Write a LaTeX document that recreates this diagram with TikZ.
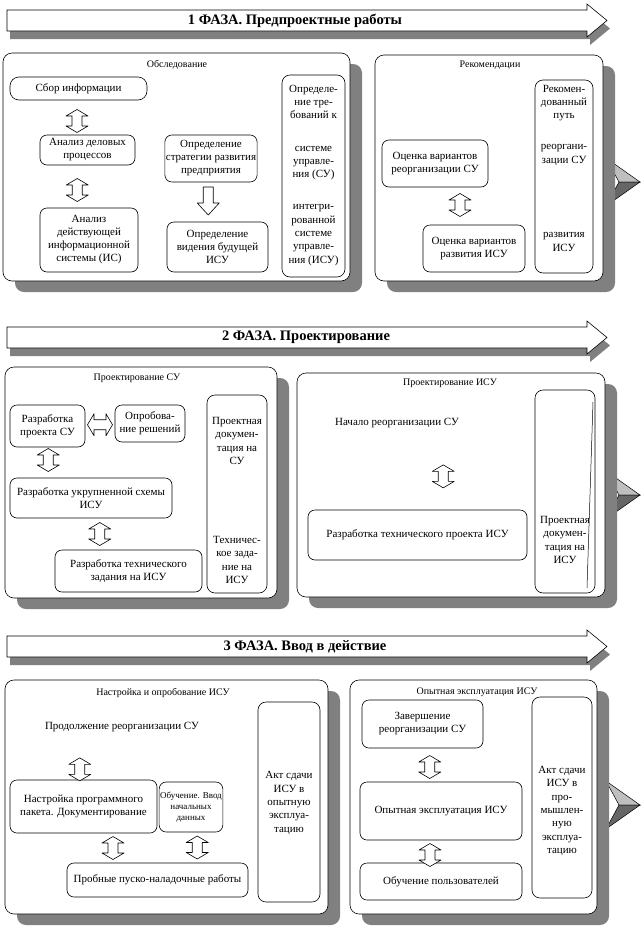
\documentclass[tikz,border=0pt]{standalone}
\usepackage{fontspec}
\setmainfont{Liberation Serif}
\usetikzlibrary{calc}
\tikzset{
 panel/.style={draw, fill=white, rounded corners=9pt, line width=0.6pt},
 pshadow/.style={fill=black!50, rounded corners=9pt},
 box/.style={draw, fill=white, rounded corners=7pt, line width=0.6pt, align=center, inner sep=1pt, font=\fontsize{11}{13}\selectfont},
 tallbox/.style={draw, fill=white, rounded corners=8pt, line width=0.6pt, inner sep=0pt},
 txt/.style={align=center, inner sep=0pt, font=\fontsize{11}{13.3}\selectfont},
 ptitle/.style={inner sep=0pt, font=\fontsize{10}{12}\selectfont},
 btext/.style={inner sep=0pt, font=\fontsize{14.5}{16}\selectfont\bfseries},
 blk/.style={draw, fill=white, line width=0.6pt, line join=round},
 bshape/.style={draw, fill=white, line width=0.6pt},
 bshadow/.style={fill=black!50},
}
\newcommand\arrV[1]{\draw[blk] (#1) ++(0,-11.5) -- ++(11,6.5) -- ++(-6,0) -- ++(0,10) -- ++(6,0) -- ++(-11,6.5) -- ++(-11,-6.5) -- ++(6,0) -- ++(0,-10) -- ++(-6,0) -- cycle;}
\newcommand\arrH[1]{\draw[blk] (#1) ++(-12.5,0) -- ++(6.5,-11) -- ++(0,6) -- ++(12,0) -- ++(0,-6) -- ++(6.5,11) -- ++(-6.5,11) -- ++(0,-6) -- ++(-12,0) -- ++(0,6) -- cycle;}
\newcommand\arrD[1]{\draw[blk] (#1) ++(-5,-14) -- ++(10,0) -- ++(0,16) -- ++(6,0) -- ++(-11,12) -- ++(-11,-12) -- ++(6,0) -- cycle;}
\newcommand\mybanner[1]{%
 \fill[bshadow] (10,#1+8) -- (590,#1+8) -- (590,#1+2) -- (610,#1+18.5) -- (590,#1+35) -- (590,#1+29) -- (10,#1+29) -- cycle;
 \draw[bshape] (7,#1) -- (587,#1) -- (587,#1-6) -- (607,#1+10.5) -- (587,#1+27) -- (587,#1+21) -- (7,#1+21) -- cycle;
}
\newcommand\mychev[1]{%
 \draw[fill=black!25, line width=0.5pt] (606,#1-24) -- (640,#1) -- (619,#1) -- cycle;
 \draw[fill=black!60, line width=0.5pt] (619,#1) -- (640,#1) -- (606,#1+24) -- cycle;
}
\begin{document}
\begin{tikzpicture}[x=1pt,y=-1pt]
\fill[white] (0,0) rectangle (642,935);
\useasboundingbox (0,0) rectangle (642,935);

% ---------- PHASE 1 ----------
\mybanner{10}
\node[btext] (b1) at (295,20.5) {1 ФАЗА. Предпроектные работы};
\mychev{182}
\fill[pshadow] (15,64) rectangle (362,292);
\draw[panel] (3,53) rectangle (350,281);
\fill[pshadow] (387,66) rectangle (615,292);
\draw[panel] (375,55) rectangle (603,281);

\node[ptitle] (t1l) at (177,65) {Обследование};
\node[box, rounded corners=9pt, minimum width=137pt, minimum height=23pt] (sbor) at (78.5,88.5) {Сбор информации};
\node[box, minimum width=95pt, minimum height=30pt] (anal1) at (87.5,150) {Анализ деловых\\процессов};
\node[box, minimum width=98pt, minimum height=64pt] (anal2) at (89,240) {Анализ\\действующей\\информационной\\системы (ИС)};
\node[box, minimum width=92pt, minimum height=47pt] (strat) at (211,158.5) {Определение\\стратегии развития\\предприятия};
\node[box, minimum width=101pt, minimum height=50pt] (vid) at (217.5,247) {Определение\\видения будущей\\ИСУ};
\node[tallbox, minimum width=63pt, minimum height=202pt] (treb) at (313.5,176) {};
\node[txt] (treb1) at (313.5,102) {Определе-\\ние тре-\\бований к};
\node[txt] (treb2) at (313.5,163) {системе\\управле-\\ния (СУ)};
\node[txt] (treb3) at (313.5,235) {интегри-\\рованной\\системе\\управле-\\ния (ИСУ)};
\coordinate (ar1) at ($(sbor.south)!0.5!(anal1.north)+(-6,3.5)$);
\coordinate (ar2) at ($(anal1.south)!0.5!(anal2.north)+(-11,3.5)$);
\coordinate (ar3) at ($(strat.south)!0.5!(vid.north)+(-6,-1)$);
\arrV{ar1} \arrV{ar2} \arrD{ar3}

\node[ptitle] (t1r) at (490,65) {Рекомендации};
\node[box, minimum width=106pt, minimum height=47pt] (ocr) at (435,163.5) {Оценка вариантов\\реорганизации СУ};
\node[box, minimum width=102pt, minimum height=47pt] (ocd) at (474,248.5) {Оценка вариантов\\развития ИСУ};
\node[tallbox, minimum width=58pt, minimum height=193pt] (rek) at (564,176.5) {};
\node[txt] (rek1) at (564,103) {Рекомен-\\дованный\\путь};
\node[txt] (rek2) at (564,155) {реоргани-\\зации СУ};
\node[txt] (rek3) at (564,242) {развития\\ИСУ};
\coordinate (ar4) at ($(ocr.south)!0.5!(ocd.north)+(5.5,-1)$);
\arrV{ar4}

% ---------- PHASE 2 ----------
\mybanner{327}
\node[btext] (b2) at (306,337.5) {2 ФАЗА. Проектирование};
\mychev{495}
\fill[pshadow] (17,378) rectangle (289,609);
\draw[panel] (5,367) rectangle (277,598);
\fill[pshadow] (309,384) rectangle (617,608);
\draw[panel] (297,373) rectangle (605,597);

\node[ptitle] (t2l) at (137,378) {Проектирование СУ};
\node[box, minimum width=75pt, minimum height=42pt] (prsu) at (47.5,426) {Разработка\\проекта СУ};
\node[box, minimum width=70pt, minimum height=37pt] (opr) at (150,423.5) {Опробова-\\ние решений};
\node[box, minimum width=162pt, minimum height=40pt] (ukr) at (91,498) {Разработка укрупненной схемы\\ИСУ};
\node[box, minimum width=147pt, minimum height=42pt] (tz) at (128.5,571) {Разработка технического\\задания на ИСУ};
\node[tallbox, minimum width=60pt, minimum height=198pt] (pdsu) at (237,494) {};
\node[txt] (pdsu1) at (237,441) {Проектная\\докумен-\\тация на\\СУ};
\node[txt] (pdsu2) at (237,560) {Техничес-\\кое зада-\\ние на\\ИСУ};
\coordinate (ar5) at ($(prsu.east)!0.5!(opr.west)$);
\coordinate (ar6) at ($(prsu.south)!0.5!(ukr.north)+(-21,-2.5)$);
\coordinate (ar7) at ($(ukr.south)!0.5!(tz.north)+(-10,0)$);
\arrH{ar5} \arrV{ar6} \arrV{ar7}

\node[ptitle] (t2r) at (450,383) {Проектирование ИСУ};
\node[txt] (nach) at (397,423) {Начало реорганизации СУ};
\node[box, minimum width=219pt, minimum height=50pt] (trp) at (417.5,535) {Разработка технического проекта ИСУ};
\node[tallbox, minimum width=60pt, minimum height=203pt] (pdisu) at (565,491.5) {};
\draw[line width=0.5pt] (593,402) -- (587,588);
\node[txt] (pdisu1) at (565,540) {Проектная\\докумен-\\тация на\\ИСУ};
\coordinate (ar8) at ($(nach.south)!0.5!(trp.north)+(36,7.5)$);
\arrV{ar8}

% ---------- PHASE 3 ----------
\mybanner{636}
\node[btext] (b3) at (305,646.5) {3 ФАЗА. Ввод в действие};
\mychev{805}
\fill[pshadow] (17,691) rectangle (340,925);
\draw[panel] (5,680) rectangle (328,914);
\fill[pshadow] (362,691) rectangle (609,925);
\draw[panel] (350,680) rectangle (597,914);

\node[ptitle] (t3l) at (163,693) {Настройка и опробование ИСУ};
\node[txt] (prod) at (122,727) {Продолжение реорганизации СУ};
\node[box, minimum width=147pt, minimum height=53pt] (nast) at (83.5,806.5) {Настройка программного\\пакета. Документирование};
\node[box, minimum width=62pt, minimum height=50pt, font=\fontsize{9}{11}\selectfont] (obuch) at (191,807) {Обучение. Ввод\\начальных\\данных};
\node[box, minimum width=181pt, minimum height=34pt] (prob) at (157.5,880) {Пробные пуско-наладочные работы};
\node[tallbox, minimum width=62pt, minimum height=200pt] (akt1) at (289,802) {};
\node[txt] (akt1t) at (289,803) {Акт сдачи\\ИСУ в\\опытную\\эксплуа-\\тацию};
\coordinate (ar9) at ($(prod.south)!0.5!(nast.north)+(-23,13.5)$);
\coordinate (ar10) at ($(nast.south)!0.5!(prob.north)+(-7.5,0)$);
\coordinate (ar11) at ($(obuch.south)!0.5!(prob.north)+(23,0)$);
\arrV{ar9} \arrV{ar10} \arrV{ar11}

\node[ptitle] (t3r) at (477,692) {Опытная эксплуатация ИСУ};
\node[box, minimum width=121pt, minimum height=48pt] (zav) at (422.5,724) {Завершение\\реорганизации СУ};
\node[box, minimum width=162pt, minimum height=58pt] (opyt) at (441,811) {Опытная эксплуатация ИСУ};
\node[box, minimum width=162pt, minimum height=37pt] (obp) at (441,881.5) {Обучение пользователей};
\node[tallbox, minimum width=60pt, minimum height=201pt] (akt2) at (562,797.5) {};
\node[txt] (akt2t) at (562,811) {Акт сдачи\\ИСУ в\\про-\\мышлен-\\ную\\эксплуа-\\тацию};
\coordinate (ar12) at ($(zav.south)!0.5!(opyt.north)+(-2,2)$);
\coordinate (ar13) at ($(opyt.south)!0.5!(obp.north)+(-11,3.5)$);
\arrV{ar12} \arrV{ar13}
\end{tikzpicture}
\end{document}
